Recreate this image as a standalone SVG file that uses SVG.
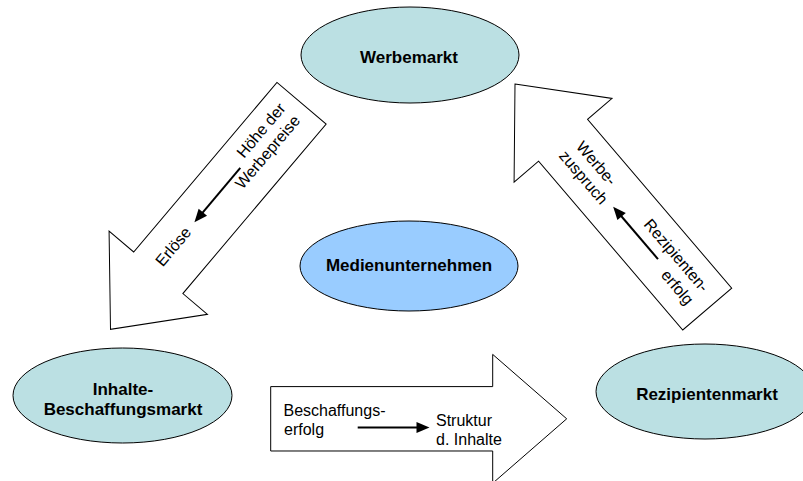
<svg xmlns="http://www.w3.org/2000/svg" xmlns:xlink="http://www.w3.org/1999/xlink" width="803" height="481" viewBox="0 0 803 481">
  <style>
    .market { fill: #bbe0e3; stroke: #000; stroke-width: 1; }
    .core { fill: #99ccff; stroke: #000; stroke-width: 1; }
    .title { font-family: "Liberation Sans", Arial, sans-serif; font-size: 17px; font-weight: bold; fill: #000; text-anchor: middle; }
    .label { font-family: "Liberation Sans", Arial, sans-serif; font-size: 16px; fill: #000; }
    .flow { fill: #fff; stroke: #000; stroke-width: 1; stroke-linejoin: miter; }
    .small { stroke: #000; stroke-width: 2; fill: none; }
    .head { fill: #000; }
  </style>
  <defs>
    <!-- block arrow, tip at origin, body extending along +x -->
    <path id="bigArrow" d="M0,0 L74,-64.4 L74,-32.2 L296,-32.2 L296,32.2 L74,32.2 L74,64.4 Z"/>
  </defs>

  <!-- connectors: block arrows with their inscriptions -->
  <g id="connectors">
    <g id="werbe-to-inhalte" transform="translate(110.5,329.3) rotate(-49.8)">
      <use xlink:href="#bigArrow" class="flow"/>
      <path class="small" d="M207,-5 H147"/>
      <polygon class="head" points="136,-5 149,-10.5 149,0.5"/>
      <text class="label" x="81" y="0">Erlöse</text>
      <text class="label" x="282" y="-8" text-anchor="end">Höhe der</text>
      <text class="label" x="282" y="11" text-anchor="end">Werbepreise</text>
    </g>
    <g id="rezipienten-to-werbe" transform="translate(515,84) rotate(49.5)">
      <use xlink:href="#bigArrow" class="flow"/>
      <path class="small" d="M226,5 H168"/>
      <polygon class="head" points="157,5 170,-0.5 170,10.5"/>
      <text class="label" x="87" y="-5">Werbe-</text>
      <text class="label" x="83" y="14">zuspruch</text>
      <text class="label" x="280" y="-6" text-anchor="end">Rezipienten-</text>
      <text class="label" x="280" y="14" text-anchor="end">erfolg</text>
    </g>
    <g id="inhalte-to-rezipienten">
      <use xlink:href="#bigArrow" class="flow" transform="translate(566.7,418.8) rotate(180)"/>
      <path class="small" d="M357.7,427.5 H418"/>
      <polygon class="head" points="429.5,427.5 416.5,422 416.5,433"/>
      <text class="label" x="283.5" y="415.5">Beschaffungs-</text>
      <text class="label" x="284" y="435">erfolg</text>
      <text class="label" x="436" y="425.5">Struktur</text>
      <text class="label" x="436" y="445">d. Inhalte</text>
    </g>
  </g>

  <g id="werbemarkt">
    <ellipse class="market" cx="410" cy="55" rx="109" ry="48"/>
    <text class="title" x="409" y="63">Werbemarkt</text>
  </g>

  <g id="medienunternehmen">
    <ellipse class="core" cx="409" cy="266" rx="109" ry="45"/>
    <text class="title" x="409" y="271">Medienunternehmen</text>
  </g>

  <g id="inhalte-beschaffungsmarkt">
    <ellipse class="market" cx="122.5" cy="395.5" rx="109.5" ry="47.5"/>
    <text class="title" x="123" y="395">Inhalte-</text>
    <text class="title" x="123" y="414.5">Beschaffungsmarkt</text>
  </g>

  <g id="rezipientenmarkt">
    <ellipse class="market" cx="705" cy="391.5" rx="109" ry="47.5"/>
    <text class="title" x="707" y="400">Rezipientenmarkt</text>
  </g>
</svg>
